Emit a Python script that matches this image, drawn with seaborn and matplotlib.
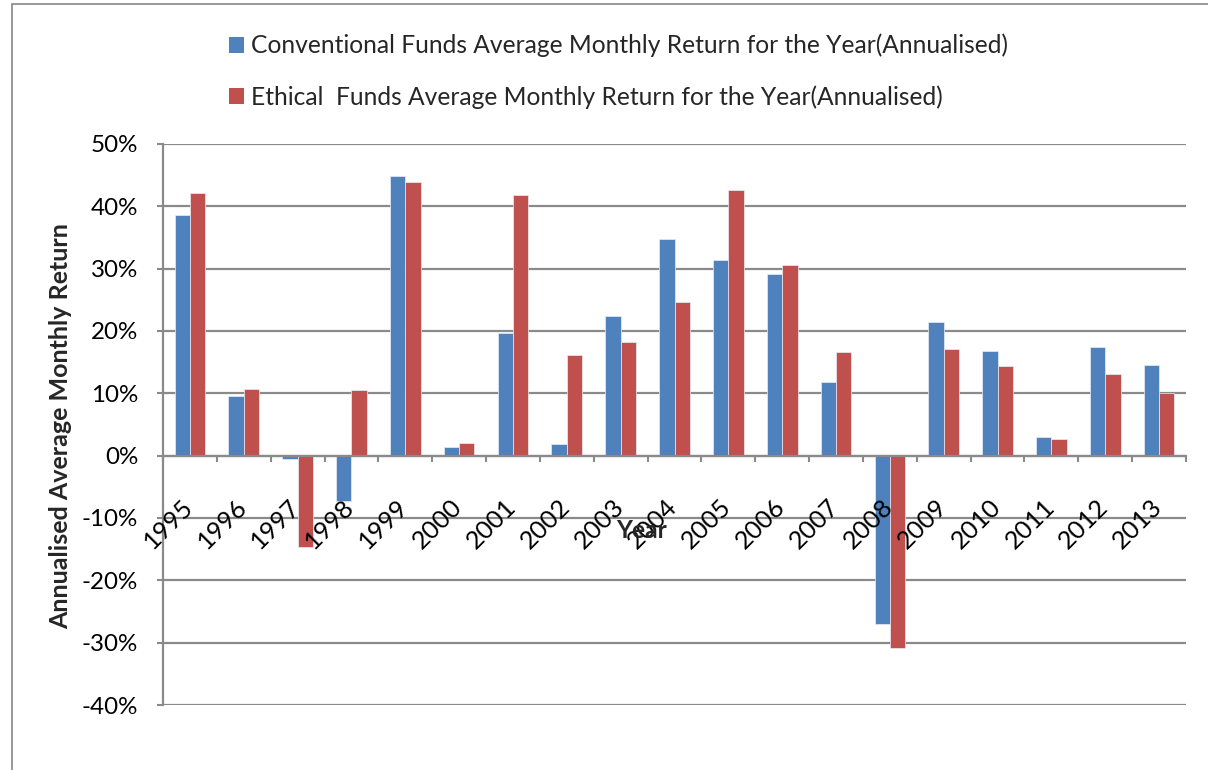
import matplotlib
matplotlib.use("Agg")
import matplotlib.pyplot as plt
import seaborn as sns
import pandas as pd
import numpy as np
from matplotlib.patches import Rectangle, Patch
from matplotlib.ticker import FuncFormatter, FixedLocator
from matplotlib.transforms import ScaledTranslation

years = ["1995", "1996", "1997", "1998", "1999", "2000", "2001", "2002", "2003", "2004",
         "2005", "2006", "2007", "2008", "2009", "2010", "2011", "2012", "2013"]
conventional = [38.6, 9.6, -0.6, -7.2, 44.8, 1.4, 19.7, 1.9, 22.4, 34.7,
                31.4, 29.2, 11.8, -27.0, 21.4, 16.8, 3.0, 17.4, 14.5]
ethical = [42.2, 10.7, -14.7, 10.5, 43.9, 2.1, 41.8, 16.1, 18.2, 24.6,
           42.6, 30.6, 16.6, -30.9, 17.1, 14.4, 2.6, 13.1, 10.1]
series_names = ["Conventional Funds Average Monthly Return for the Year(Annualised)",
                "Ethical  Funds Average Monthly Return for the Year(Annualised)"]
colors = ["#4F81BD", "#C0504D"]
ytick_values = [-40, -30, -20, -10, 0, 10, 20, 30, 40, 50]

df = pd.DataFrame({
    "Year": years * 2,
    "Return": conventional + ethical,
    "Series": [series_names[0]] * len(years) + [series_names[1]] * len(years),
})

sns.set_theme(style="white")
plt.rcParams["font.family"] = ["Lato", "DejaVu Sans"]

grid_color = "#8A8A8A"
fig = plt.figure(figsize=(12.08, 7.70), dpi=100)
ax = fig.add_axes([163 / 1208, 65 / 770, 1023 / 1208, 561 / 770])

sns.barplot(data=df, x="Year", y="Return", hue="Series", palette=colors, saturation=1,
            width=0.57, ax=ax, edgecolor="#E8EEF7", linewidth=0.5, legend=False)

ax.set_ylim(-40, 50)
ax.set_xlim(-0.5, len(years) - 0.5)
ax.set_yticks(ytick_values)
ax.yaxis.set_major_formatter(FuncFormatter(lambda v, p: f"{int(round(v))}%"))
for v in ytick_values:
    ax.axhline(v, color=grid_color, linewidth=1.6, zorder=0.5)
ax.set_axisbelow(False)

for s in ["top", "right"]:
    ax.spines[s].set_visible(False)
ax.spines["left"].set_color(grid_color)
ax.spines["left"].set_linewidth(1.6)
ax.spines["bottom"].set_position(("data", 0))
ax.spines["bottom"].set_color(grid_color)
ax.spines["bottom"].set_linewidth(1.6)

ax.tick_params(axis="y", which="major", length=4.5, width=1.5, color=grid_color,
               labelsize=17.4, pad=13.5, left=True, labelcolor="black")
ax.tick_params(axis="x", which="major", length=0, labelsize=18.3, pad=28, labelcolor="black")
ax.xaxis.set_minor_locator(FixedLocator(np.arange(-0.5, len(years), 1.0)))
ax.tick_params(axis="x", which="minor", length=4.5, width=1.5, color=grid_color, bottom=True)
offset = ScaledTranslation(-9 / 100, 0, fig.dpi_scale_trans)
for lbl in ax.get_xticklabels():
    lbl.set_rotation(45)
    lbl.set_ha("right")
    lbl.set_rotation_mode("anchor")
    lbl.set_va("top")
    lbl.set_transform(lbl.get_transform() + offset)

ax.set_xlabel("")
ax.set_ylabel("Annualised Average Monthly Return", fontsize=18, fontweight="bold")
ax.yaxis.set_label_coords(-(163 - 72) / 1023, (705 - 426) / 561)
ax.text((641 - 163) / 1023, (705 - 530) / 561, "Year", transform=ax.transAxes,
        fontsize=17.7, fontweight="bold", ha="center", va="center")

handles = [Patch(facecolor=c, edgecolor="none") for c in colors]
fig.legend(handles, series_names, loc="upper left", bbox_to_anchor=(219 / 1208, 1 - 24 / 770),
           frameon=False, fontsize=17.7, handlelength=0.6, handleheight=0.6,
           handletextpad=0.3, labelspacing=1.12, borderaxespad=0)

fig.add_artist(Rectangle((12 / 1208, -0.1), 1.2, (770 - 4) / 770 + 0.1,
                         transform=fig.transFigure, fill=False,
                         edgecolor="#868686", linewidth=1.2))

fig.savefig("out.png", dpi=100, facecolor="white")
